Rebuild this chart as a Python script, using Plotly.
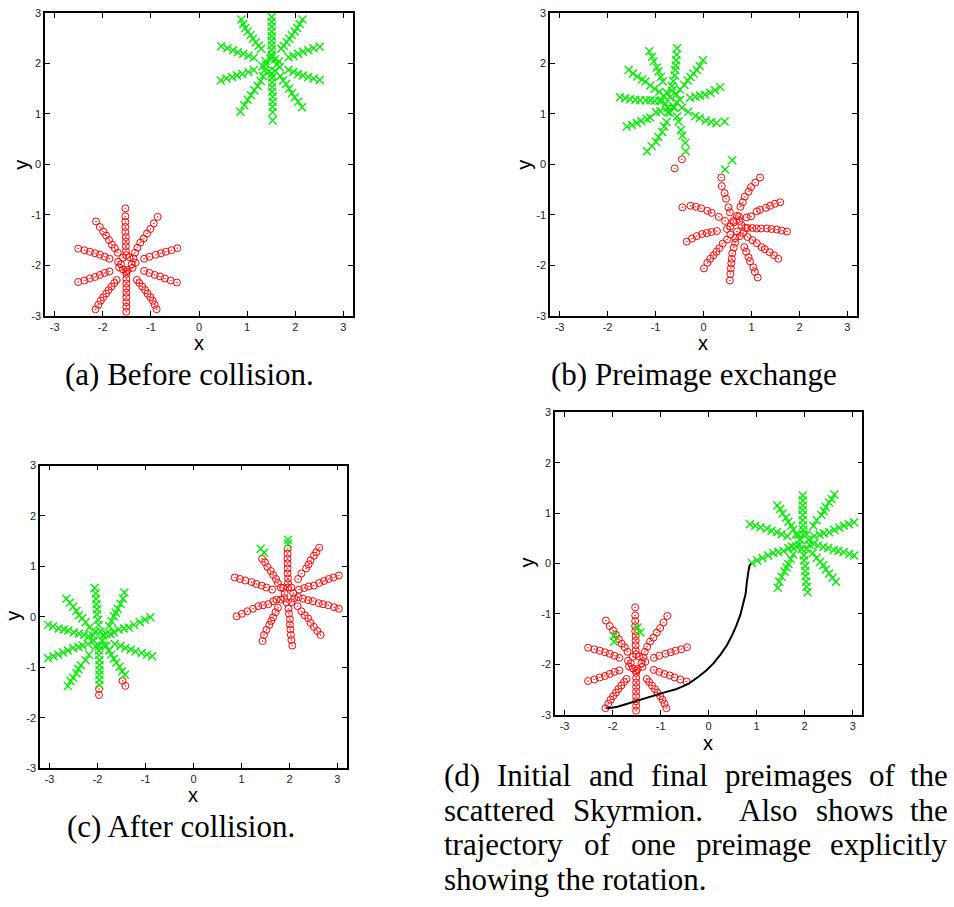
import plotly.graph_objects as go

# ---------------- data ----------------
tick_vals = [-3, -2, -1, 0, 1, 2, 3]
tick_text = ["-3", "-2", "-1", "0", "1", "2", "3"]

# (a) Before collision: red preimage (circles)
a_red = [
    (-1.53, -0.87), (-1.53, -1.03), (-1.53, -1.14), (-1.53, -1.24), (-1.53, -1.34), (-1.52, -1.44), (-1.52, -1.53), (-1.52, -1.62), (-1.52, -1.72), (-1.51, -1.80),
    (-1.33, -1.75), (-1.28, -1.65), (-1.22, -1.55), (-1.15, -1.47), (-1.08, -1.37), (-1.01, -1.28), (-0.94, -1.17), (-0.86, -1.04),
    (-1.14, -1.87), (-1.03, -1.83), (-0.90, -1.79), (-0.79, -1.76), (-0.69, -1.73), (-0.57, -1.70), (-0.45, -1.66),
    (-1.14, -2.11), (-1.03, -2.15), (-0.92, -2.19), (-0.81, -2.22), (-0.71, -2.26), (-0.59, -2.30), (-0.46, -2.34),
    (-1.29, -2.29), (-1.24, -2.35), (-1.18, -2.42), (-1.12, -2.49), (-1.07, -2.56), (-1.01, -2.63), (-0.96, -2.70), (-0.92, -2.78), (-0.88, -2.87),
    (-1.51, -2.17), (-1.51, -2.27), (-1.51, -2.36), (-1.51, -2.45), (-1.51, -2.54), (-1.51, -2.63), (-1.51, -2.73), (-1.51, -2.82), (-1.51, -2.92),
    (-1.71, -2.29), (-1.76, -2.35), (-1.82, -2.42), (-1.88, -2.49), (-1.93, -2.56), (-1.99, -2.63), (-2.04, -2.70), (-2.09, -2.78), (-2.15, -2.87),
    (-1.86, -2.12), (-1.96, -2.15), (-2.06, -2.19), (-2.16, -2.23), (-2.27, -2.26), (-2.38, -2.30), (-2.51, -2.33),
    (-1.86, -1.87), (-1.96, -1.83), (-2.06, -1.79), (-2.16, -1.76), (-2.27, -1.73), (-2.38, -1.70), (-2.51, -1.67),
    (-1.69, -1.75), (-1.75, -1.66), (-1.81, -1.59), (-1.87, -1.50), (-1.93, -1.41), (-1.99, -1.33), (-2.06, -1.24), (-2.14, -1.13),
    (-1.68, -1.93), (-1.66, -2.04), (-1.58, -2.08), (-1.48, -2.09), (-1.38, -2.05), (-1.32, -1.95), (-1.36, -1.86), (-1.45, -1.84),
    (-1.58, -1.85), (-1.51, -2.12), (-1.62, -1.98), (-1.40, -1.98),
]

# (a) Before collision: green preimage (crosses)
a_green = [
    (1.53, 0.87), (1.53, 1.03), (1.53, 1.14), (1.53, 1.24), (1.53, 1.34), (1.52, 1.44), (1.52, 1.53), (1.52, 1.62), (1.52, 1.72), (1.51, 1.80),
    (1.33, 1.75), (1.28, 1.65), (1.22, 1.55), (1.15, 1.47), (1.08, 1.37), (1.01, 1.28), (0.94, 1.17), (0.86, 1.04),
    (1.14, 1.87), (1.03, 1.83), (0.90, 1.79), (0.79, 1.76), (0.69, 1.73), (0.57, 1.70), (0.45, 1.66),
    (1.14, 2.11), (1.03, 2.15), (0.92, 2.19), (0.81, 2.22), (0.71, 2.26), (0.59, 2.30), (0.46, 2.34),
    (1.29, 2.29), (1.24, 2.35), (1.18, 2.42), (1.12, 2.49), (1.07, 2.56), (1.01, 2.63), (0.96, 2.70), (0.92, 2.78), (0.88, 2.87),
    (1.51, 2.17), (1.51, 2.27), (1.51, 2.36), (1.51, 2.45), (1.51, 2.54), (1.51, 2.63), (1.51, 2.73), (1.51, 2.82), (1.51, 2.92),
    (1.71, 2.29), (1.76, 2.35), (1.82, 2.42), (1.88, 2.49), (1.93, 2.56), (1.99, 2.63), (2.04, 2.70), (2.09, 2.78), (2.15, 2.87),
    (1.86, 2.12), (1.96, 2.15), (2.06, 2.19), (2.16, 2.23), (2.27, 2.26), (2.38, 2.30), (2.51, 2.33),
    (1.86, 1.87), (1.96, 1.83), (2.06, 1.79), (2.16, 1.76), (2.27, 1.73), (2.38, 1.70), (2.51, 1.67),
    (1.69, 1.75), (1.75, 1.66), (1.81, 1.59), (1.87, 1.50), (1.93, 1.41), (1.99, 1.33), (2.06, 1.24), (2.14, 1.13),
    (1.68, 1.93), (1.66, 2.04), (1.58, 2.08), (1.48, 2.09), (1.38, 2.05), (1.32, 1.95), (1.36, 1.86), (1.45, 1.84),
    (1.58, 1.85), (1.51, 2.12), (1.62, 1.98), (1.40, 1.98),
]

# (b) Preimage exchange: red preimage
b_red = [
    (0.37, -0.26), (0.38, -0.43), (0.44, -0.57), (0.47, -0.68), (0.52, -0.85), (0.55, -0.95), (0.62, -1.12),
    (1.18, -0.26), (1.08, -0.36), (0.99, -0.45), (0.94, -0.54), (0.86, -0.64), (0.82, -0.75), (0.77, -0.84), (0.70, -1.02),
    (1.60, -0.75), (1.49, -0.78), (1.39, -0.82), (1.30, -0.86), (1.18, -0.90), (1.11, -0.93), (0.99, -1.03), (0.90, -1.05),
    (1.74, -1.33), (1.63, -1.31), (1.53, -1.29), (1.42, -1.28), (1.32, -1.27), (1.20, -1.27), (1.11, -1.27), (1.02, -1.26), (0.92, -1.26),
    (1.56, -1.87), (1.47, -1.80), (1.38, -1.74), (1.28, -1.68), (1.21, -1.64), (1.11, -1.56), (1.02, -1.50), (0.92, -1.44),
    (1.13, -2.24), (1.07, -2.13), (1.04, -2.04), (0.97, -1.92), (0.94, -1.84), (0.89, -1.73), (0.85, -1.64),
    (0.55, -2.30), (0.56, -2.17), (0.57, -2.06), (0.58, -1.96), (0.59, -1.87), (0.60, -1.76), (0.63, -1.65), (0.66, -1.55),
    (0.01, -2.06), (0.08, -1.95), (0.14, -1.87), (0.21, -1.80), (0.27, -1.73), (0.33, -1.66), (0.40, -1.57), (0.49, -1.49),
    (-0.35, -1.53), (-0.24, -1.47), (-0.14, -1.42), (-0.03, -1.38), (0.07, -1.36), (0.17, -1.34), (0.28, -1.32),
    (-0.44, -0.85), (-0.27, -0.82), (-0.16, -0.84), (-0.05, -0.87), (0.08, -0.92), (0.17, -0.96), (0.32, -1.04), (0.45, -1.12),
    (0.56, -1.23), (0.63, -1.15), (0.74, -1.03), (0.79, -1.20), (0.83, -1.36), (0.76, -1.42), (0.66, -1.46), (0.56, -1.39),
    (0.49, -1.28), (0.87, -1.26), (0.70, -1.33), (0.75, -1.12),
    (-0.60, -0.08), (-0.45, 0.10),
]

# (b) Preimage exchange: green preimage
b_green = [
    (-0.37, 0.26), (-0.38, 0.43), (-0.44, 0.57), (-0.47, 0.68), (-0.52, 0.85), (-0.55, 0.95), (-0.62, 1.12),
    (-1.18, 0.26), (-1.08, 0.36), (-0.99, 0.45), (-0.94, 0.54), (-0.86, 0.64), (-0.82, 0.75), (-0.77, 0.84), (-0.70, 1.02),
    (-1.60, 0.75), (-1.49, 0.78), (-1.39, 0.82), (-1.30, 0.86), (-1.18, 0.90), (-1.11, 0.93), (-0.99, 1.03), (-0.90, 1.05),
    (-1.74, 1.33), (-1.63, 1.31), (-1.53, 1.29), (-1.42, 1.28), (-1.32, 1.27), (-1.20, 1.27), (-1.11, 1.27), (-1.02, 1.26), (-0.92, 1.26),
    (-1.56, 1.87), (-1.47, 1.80), (-1.38, 1.74), (-1.28, 1.68), (-1.21, 1.64), (-1.11, 1.56), (-1.02, 1.50), (-0.92, 1.44),
    (-1.13, 2.24), (-1.07, 2.13), (-1.04, 2.04), (-0.97, 1.92), (-0.94, 1.84), (-0.89, 1.73), (-0.85, 1.64),
    (-0.55, 2.30), (-0.56, 2.17), (-0.57, 2.06), (-0.58, 1.96), (-0.59, 1.87), (-0.60, 1.76), (-0.63, 1.65), (-0.66, 1.55),
    (-0.01, 2.06), (-0.08, 1.95), (-0.14, 1.87), (-0.21, 1.80), (-0.27, 1.73), (-0.33, 1.66), (-0.40, 1.57), (-0.49, 1.49),
    (0.35, 1.53), (0.24, 1.47), (0.14, 1.42), (0.03, 1.38), (-0.07, 1.36), (-0.17, 1.34), (-0.28, 1.32),
    (0.44, 0.85), (0.27, 0.82), (0.16, 0.84), (0.05, 0.87), (-0.08, 0.92), (-0.17, 0.96), (-0.32, 1.04), (-0.45, 1.12),
    (-0.56, 1.23), (-0.63, 1.15), (-0.74, 1.03), (-0.79, 1.20), (-0.83, 1.36), (-0.76, 1.42), (-0.66, 1.46), (-0.56, 1.39),
    (-0.49, 1.28), (-0.87, 1.26), (-0.70, 1.33), (-0.75, 1.12),
    (0.60, 0.08), (0.45, -0.10),
]

# (c) After collision: red preimage (star) and its stray points
c_red = [
    (1.96, 1.35), (1.96, 1.25), (1.96, 1.15), (1.96, 1.06), (1.96, 0.96), (1.96, 0.86), (1.97, 0.76), (1.97, 0.67),
    (2.62, 1.37), (2.56, 1.28), (2.51, 1.21), (2.44, 1.12), (2.40, 1.04), (2.35, 0.96), (2.25, 0.86), (2.18, 0.75),
    (3.03, 0.82), (2.92, 0.78), (2.82, 0.75), (2.72, 0.71), (2.62, 0.67), (2.51, 0.62), (2.40, 0.60), (2.31, 0.57), (2.20, 0.54),
    (3.03, 0.16), (2.93, 0.19), (2.81, 0.23), (2.70, 0.25), (2.61, 0.27), (2.49, 0.31), (2.39, 0.33), (2.28, 0.36), (2.19, 0.39),
    (2.65, -0.36), (2.58, -0.28), (2.51, -0.20), (2.44, -0.12), (2.39, -0.03), (2.32, 0.03), (2.25, 0.11), (2.17, 0.21),
    (2.06, -0.57), (2.04, -0.46), (2.03, -0.36), (2.02, -0.25), (2.01, -0.15), (2.01, -0.05), (1.99, 0.06), (1.98, 0.16),
    (1.44, -0.48), (1.47, -0.36), (1.52, -0.26), (1.58, -0.16), (1.62, -0.08), (1.66, -0.01), (1.71, 0.09), (1.76, 0.18),
    (0.90, 0.01), (1.01, 0.06), (1.12, 0.11), (1.24, 0.16), (1.35, 0.21), (1.45, 0.23), (1.56, 0.25), (1.66, 0.31),
    (0.86, 0.78), (0.97, 0.75), (1.08, 0.72), (1.21, 0.69), (1.31, 0.65), (1.42, 0.62), (1.52, 0.58), (1.64, 0.54),
    (1.43, 1.15), (1.49, 1.08), (1.54, 0.99), (1.61, 0.91), (1.66, 0.83), (1.72, 0.75), (1.76, 0.67), (1.82, 0.58),
    (1.87, 0.57), (1.90, 0.47), (1.89, 0.37), (1.94, 0.29), (2.04, 0.29), (2.10, 0.37), (2.08, 0.47), (2.04, 0.58),
    (1.97, 0.58), (1.82, 0.34), (1.73, 0.34),
]
c_red_stray = [(-1.97, -1.43), (-1.97, -1.55), (-1.48, -1.27), (-1.42, -1.37)]

# (c) After collision: green preimage (star) and its stray points
c_green = [
    (-1.96, -1.35), (-1.96, -1.25), (-1.96, -1.15), (-1.96, -1.06), (-1.96, -0.96), (-1.96, -0.86), (-1.97, -0.76), (-1.97, -0.67),
    (-2.62, -1.37), (-2.56, -1.28), (-2.51, -1.21), (-2.44, -1.12), (-2.40, -1.04), (-2.35, -0.96), (-2.25, -0.86), (-2.18, -0.75),
    (-3.03, -0.82), (-2.92, -0.78), (-2.82, -0.75), (-2.72, -0.71), (-2.62, -0.67), (-2.51, -0.62), (-2.40, -0.60), (-2.31, -0.57), (-2.20, -0.54),
    (-3.03, -0.16), (-2.93, -0.19), (-2.81, -0.23), (-2.70, -0.25), (-2.61, -0.27), (-2.49, -0.31), (-2.39, -0.33), (-2.28, -0.36), (-2.19, -0.39),
    (-2.65, 0.36), (-2.58, 0.28), (-2.51, 0.20), (-2.44, 0.12), (-2.39, 0.03), (-2.32, -0.03), (-2.25, -0.11), (-2.17, -0.21),
    (-2.06, 0.57), (-2.04, 0.46), (-2.03, 0.36), (-2.02, 0.25), (-2.01, 0.15), (-2.01, 0.05), (-1.99, -0.06), (-1.98, -0.16),
    (-1.44, 0.48), (-1.47, 0.36), (-1.52, 0.26), (-1.58, 0.16), (-1.62, 0.08), (-1.66, 0.01), (-1.71, -0.09), (-1.76, -0.18),
    (-0.90, -0.01), (-1.01, -0.06), (-1.12, -0.11), (-1.24, -0.16), (-1.35, -0.21), (-1.45, -0.23), (-1.56, -0.25), (-1.66, -0.31),
    (-0.86, -0.78), (-0.97, -0.75), (-1.08, -0.72), (-1.21, -0.69), (-1.31, -0.65), (-1.42, -0.62), (-1.52, -0.58), (-1.64, -0.54),
    (-1.43, -1.15), (-1.49, -1.08), (-1.54, -0.99), (-1.61, -0.91), (-1.66, -0.83), (-1.72, -0.75), (-1.76, -0.67), (-1.82, -0.58),
    (-1.87, -0.57), (-1.90, -0.47), (-1.89, -0.37), (-1.94, -0.29), (-2.04, -0.29), (-2.10, -0.37), (-2.08, -0.47), (-2.04, -0.58),
    (-1.97, -0.58), (-1.82, -0.34), (-1.73, -0.34),
]
c_green_stray = [(1.97, 1.45), (1.97, 1.53), (1.47, 1.27), (1.40, 1.35)]

# (d) trajectory of one preimage
d_traj_x = [0.88, 0.85, 0.82, 0.80, 0.79, 0.77, 0.72, 0.66, 0.58, 0.49, 0.38, 0.25, 0.10, -0.05, -0.22,
            -0.40, -0.55, -0.70, -0.90, -1.10, -1.30, -1.50, -1.70, -1.90, -2.02, -2.13]
d_traj_y = [0.00, -0.05, -0.20, -0.32, -0.42, -0.60, -0.82, -1.02, -1.22, -1.42, -1.62, -1.80, -1.98, -2.12, -2.25,
            -2.37, -2.44, -2.50, -2.55, -2.61, -2.67, -2.72, -2.78, -2.84, -2.86, -2.87]

captions_abc = ["(a) Before collision.", "(b) Preimage exchange", "(c) After collision."]
caption_d_lines = [
    ["(d)", "Initial", "and", "final", "preimages", "of", "the"],
    ["scattered", "Skyrmion.", "Also", "shows", "the"],
    ["trajectory", "of", "one", "preimage", "explicitly"],
    ["showing the rotation."],
]

# ---------------- styling / layout ----------------
W, H = 954, 907
RED = "#ff0000"
GREEN = "#00f000"
SERIF = "Liberation Serif"
SANS = "Liberation Sans"
CAP_SIZE = 31

# panel boxes in pixels: left, right, top, bottom
BOX = {1: (45, 353, 7, 314), 2: (550, 857, 7, 314), 3: (40, 347, 465.7, 772.3), 4: (555, 862.3, 411.7, 718.3)}

fig = go.Figure()


def sfx(i):
    return "" if i == 1 else str(i)


def add_pts(pts, i, kind):
    xs = [p[0] for p in pts]
    ys = [p[1] for p in pts]
    if kind == "red":
        marker = dict(symbol="circle-open-dot", size=7, color=RED, line=dict(color=RED, width=1))
    else:
        marker = dict(symbol="x-thin-open", size=8, color=GREEN, line=dict(color=GREEN, width=1.4))
    fig.add_trace(go.Scatter(x=xs, y=ys, mode="markers", marker=marker,
                             xaxis="x" + sfx(i), yaxis="y" + sfx(i),
                             showlegend=False, hoverinfo="skip"))


add_pts(a_red, 1, "red")
add_pts(a_green, 1, "green")
add_pts(b_red, 2, "red")
add_pts(b_green, 2, "green")
add_pts(c_red + c_red_stray, 3, "red")
add_pts(c_green + c_green_stray, 3, "green")
add_pts(a_red, 4, "red")
add_pts(c_red + c_red_stray, 4, "green")
fig.add_trace(go.Scatter(x=d_traj_x, y=d_traj_y, mode="lines", line=dict(color="black", width=2),
                         xaxis="x4", yaxis="y4", showlegend=False, hoverinfo="skip"))

axis_common = dict(tickvals=tick_vals, ticktext=tick_text, ticks="inside", ticklen=5, tickwidth=1,
                   tickcolor="black", showline=True, linecolor="black", linewidth=1.5, mirror="allticks",
                   showgrid=False, zeroline=False, fixedrange=True,
                   tickfont=dict(family=SANS, size=11, color="#222222"))

layout = dict(width=W, height=H, margin=dict(l=0, r=0, t=0, b=0), paper_bgcolor="white",
              plot_bgcolor="white", showlegend=False)
for i, (l, r, t, b) in BOX.items():
    layout["xaxis" + sfx(i)] = dict(domain=[l / W, r / W], anchor="y" + sfx(i), range=[-3.2, 3.2], **axis_common)
    layout["yaxis" + sfx(i)] = dict(domain=[1 - b / H, 1 - t / H], anchor="x" + sfx(i), range=[-3, 3], **axis_common)
fig.update_layout(**layout)

ann = []


def text_at(txt, x, y, size, family, xanchor="center", angle=0):
    ann.append(dict(text=txt, x=x / W, y=1 - y / H, xref="paper", yref="paper", showarrow=False,
                    xanchor=xanchor, yanchor="middle", textangle=angle, borderpad=0,
                    font=dict(family=family, size=size, color="black")))


# axis titles
for (xx, xy, yx, yy) in [(199, 342, 21, 161), (703, 342, 524, 161), (193, 800, 13, 618), (708, 747, 527, 564)]:
    text_at("x", xx, xy, 20, SANS)
    text_at("y", yx, yy, 20, SANS, angle=-90)

# captions (a)-(c)
text_at(captions_abc[0], 189, 373, CAP_SIZE, SERIF)
text_at(captions_abc[1], 694, 373, CAP_SIZE, SERIF)
text_at(captions_abc[2], 181, 832, CAP_SIZE, SERIF)

# caption (d): justified lines
TIMES = {' ': 250, '(': 333, ')': 333, '.': 250, 'a': 444, 'b': 500, 'c': 444, 'd': 500, 'e': 444, 'f': 333,
         'g': 500, 'h': 500, 'i': 278, 'j': 278, 'k': 500, 'l': 278, 'm': 778, 'n': 500, 'o': 500, 'p': 500,
         'q': 500, 'r': 333, 's': 389, 't': 278, 'u': 500, 'v': 500, 'w': 722, 'x': 500, 'y': 500, 'z': 444,
         'A': 722, 'I': 333, 'S': 556}


def tw(s):
    return sum(TIMES.get(ch, 500) for ch in s) / 1000.0 * CAP_SIZE


D_LEFT, D_RIGHT = 443, 949
d_line_y = [780, 815, 850, 885]
gap_weights = {1: {1: 2.0}}  # wider gap after the sentence end in line 2
for li, words in enumerate(caption_d_lines):
    y = d_line_y[li]
    if len(words) == 1:
        text_at(words[0], D_LEFT, y, CAP_SIZE, SERIF, xanchor="left")
        continue
    widths = [tw(w) for w in words]
    weights = [gap_weights.get(li, {}).get(k, 1.0) for k in range(len(words) - 1)]
    gap = (D_RIGHT - D_LEFT - sum(widths)) / sum(weights)
    x = D_LEFT
    for k, w in enumerate(words):
        if k == len(words) - 1:
            text_at(w, D_RIGHT, y, CAP_SIZE, SERIF, xanchor="right")
        else:
            text_at(w, x, y, CAP_SIZE, SERIF, xanchor="left")
            x += widths[k] + gap * weights[k]

fig.update_layout(annotations=ann)
fig.write_html("out.html", config={"displayModeBar": False},
               post_script="document.body.style.margin='0px';document.body.style.overflow='hidden';")
